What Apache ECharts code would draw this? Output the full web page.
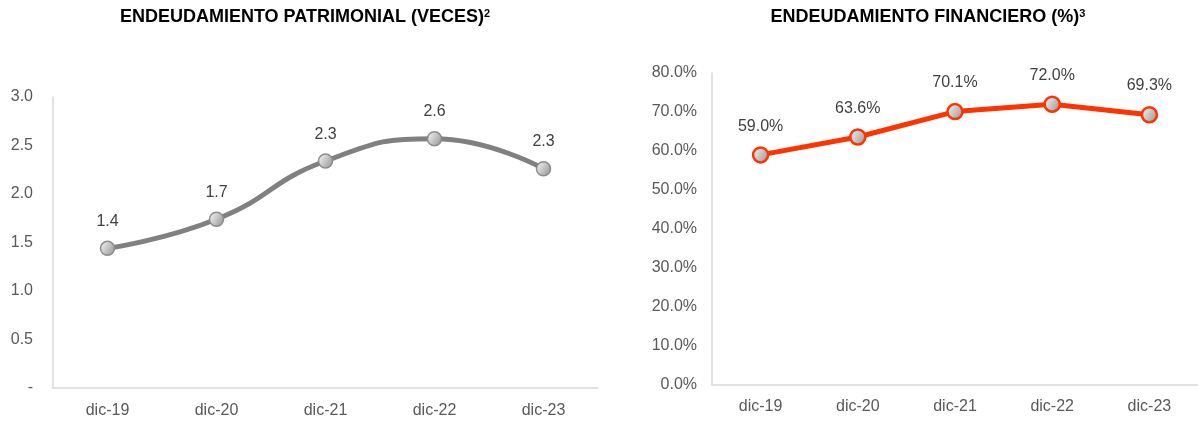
<!DOCTYPE html>
<html>
<head>
<meta charset="utf-8">
<script src="https://cdn.jsdelivr.net/npm/echarts@6/dist/echarts.min.js"></script>
<style>
  html, body { margin: 0; padding: 0; background: #fff; }
  #chart { width: 1198px; height: 423px; }
</style>
</head>
<body>
<div id="chart"></div>
<script>
"use strict";

var categories = ['dic-19', 'dic-20', 'dic-21', 'dic-22', 'dic-23'];
var patrimonialValues = [1.44, 1.74, 2.34, 2.57, 2.26];
var financieroValues = [59.0, 63.6, 70.1, 72.0, 69.3];
var patrimonialTitle = 'ENDEUDAMIENTO PATRIMONIAL (VECES)';
var financieroTitle = 'ENDEUDAMIENTO FINANCIERO (%)';
var patrimonialNote = '2';
var financieroNote = '3';

var FONT = 'Liberation Sans, Arial, sans-serif';

function markerFill() {
	return new echarts.graphic.LinearGradient(0, 0.2, 1, 0.8, [
		{ offset: 0, color: '#f4f4f4' },
		{ offset: 1, color: '#959595' }
	]);
}

var chart = echarts.init(document.getElementById('chart'));

var axisLine = { show: true, lineStyle: { color: '#d9d9d9', width: 1.5 } };
var axisText = { color: '#595959', fontSize: 16, fontFamily: FONT };
var titleText = {
	fontSize: 18,
	fontWeight: 'bold',
	color: '#000',
	fontFamily: FONT,
	rich: {
		t: { fontSize: 18, fontWeight: 'bold', color: '#000', fontFamily: FONT, verticalAlign: 'bottom' },
		s: { fontSize: 11, fontWeight: 'bold', color: '#000', fontFamily: FONT, verticalAlign: 'bottom', padding: [0, 0, 7, 0] }
	}
};

chart.setOption({
	animation: false,
	title: [{
		text: '{t|' + patrimonialTitle + '}{s|' + patrimonialNote + '}',
		left: 300,
		top: 3,
		textAlign: 'center',
		textStyle: titleText
	}, {
		text: '{t|' + financieroTitle + '}{s|' + financieroNote + '}',
		left: 923,
		top: 3,
		textAlign: 'center',
		textStyle: titleText
	}],
	grid: [{
		left: 53,
		top: 97,
		width: 545,
		height: 291
	}, {
		left: 712,
		top: 73,
		width: 490,
		height: 312
	}],
	xAxis: [{
		type: 'category',
		gridIndex: 0,
		data: categories,
		axisLine: axisLine,
		axisTick: { show: false },
		axisLabel: Object.assign({ margin: 15 }, axisText)
	}, {
		type: 'category',
		gridIndex: 1,
		data: categories,
		axisLine: axisLine,
		axisTick: { show: false },
		axisLabel: Object.assign({ margin: 14 }, axisText)
	}],
	yAxis: [{
		type: 'value',
		gridIndex: 0,
		min: 0,
		max: 3,
		interval: 0.5,
		axisLine: axisLine,
		axisTick: { show: false },
		splitLine: { show: false },
		axisLabel: Object.assign({
			margin: 20,
			formatter: function(v) { return v === 0 ? '-' : v.toFixed(1); }
		}, axisText)
	}, {
		type: 'value',
		gridIndex: 1,
		min: 0,
		max: 80,
		interval: 10,
		axisLine: axisLine,
		axisTick: { show: false },
		splitLine: { show: false },
		axisLabel: Object.assign({
			margin: 15,
			formatter: function(v) { return v.toFixed(1) + '%'; }
		}, axisText)
	}],
	series: [{
		name: 'Patrimonial',
		type: 'line',
		xAxisIndex: 0,
		yAxisIndex: 0,
		data: patrimonialValues,
		smooth: 0.5,
		symbol: 'circle',
		symbolSize: 14,
		lineStyle: { color: '#808080', width: 5 },
		itemStyle: { color: markerFill(), borderColor: '#8c8c8c', borderWidth: 1.5 },
		label: {
			show: true,
			position: 'top',
			distance: 11,
			color: '#404040',
			fontSize: 16,
			fontFamily: FONT,
			formatter: function(p) { return p.value.toFixed(1); }
		}
	}, {
		name: 'Financiero',
		type: 'line',
		xAxisIndex: 1,
		yAxisIndex: 1,
		data: financieroValues,
		symbol: 'circle',
		symbolSize: 15,
		lineStyle: { color: '#ff3300', width: 5 },
		itemStyle: { color: markerFill(), borderColor: '#ff3300', borderWidth: 2.5 },
		label: {
			show: true,
			position: 'top',
			distance: 12,
			color: '#404040',
			fontSize: 16,
			fontFamily: FONT,
			formatter: function(p) { return p.value.toFixed(1) + '%'; }
		}
	}]
});
</script>
</body>
</html>
